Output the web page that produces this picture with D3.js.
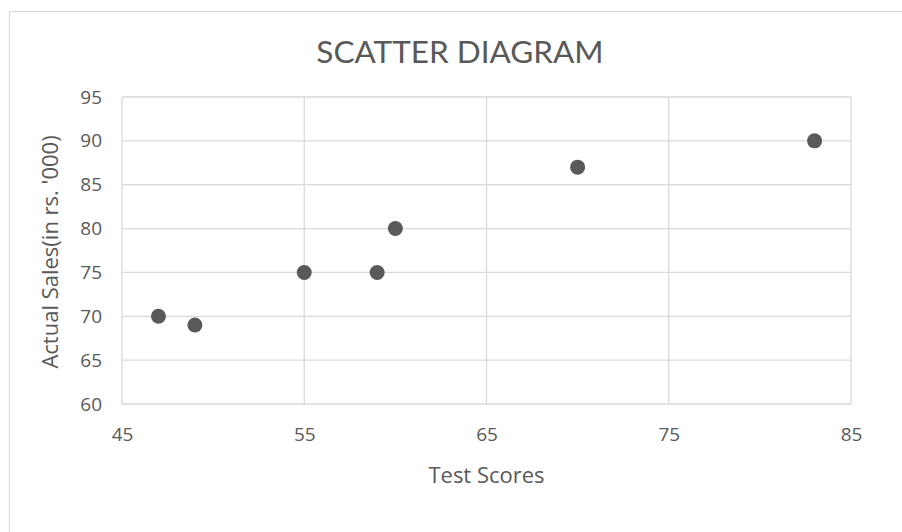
<!DOCTYPE html>
<html>
<head>
<meta charset="utf-8">
<script src="https://cdn.jsdelivr.net/npm/d3@7"></script>
<style>
  body { margin: 0; background: #fff; }
  text { font-family: "Open Sans", sans-serif; fill: #595959; }
</style>
</head>
<body>
<svg id="chart" width="902" height="532"></svg>
<script>
const testScores = [47, 49, 55, 59, 60, 70, 83];
const actualSales = [70, 69, 75, 75, 80, 87, 90];
const xTicks = [45, 55, 65, 75, 85];
const yTicks = [60, 65, 70, 75, 80, 85, 90, 95];

const svg = d3.select('#chart');
const width = +svg.attr('width');
const height = +svg.attr('height');

// chart frame
svg.append('rect')
  .attr('x', 9.5).attr('y', 11.5)
  .attr('width', width + 20).attr('height', height + 20)
  .attr('fill', '#fff')
  .attr('stroke', '#d9d9d9');

const margin = {left: 122, right: 51, top: 97, bottom: 128};
const x = d3.scaleLinear().domain([45, 85]).range([margin.left, width - margin.right]);
const y = d3.scaleLinear().domain([60, 95]).range([height - margin.bottom, margin.top]);

const g = svg.append('g');

// gridlines
g.selectAll('.hgrid').data(yTicks)
  .enter().append('line')
    .attr('x1', x(45)).attr('x2', x(85))
    .attr('y1', d => y(d)).attr('y2', d => y(d))
    .attr('stroke', '#d9d9d9').attr('stroke-width', 1.3);

g.selectAll('.vgrid').data(xTicks)
  .enter().append('line')
    .attr('x1', d => x(d)).attr('x2', d => x(d))
    .attr('y1', y(60)).attr('y2', y(95))
    .attr('stroke', '#d9d9d9').attr('stroke-width', 1.3);

// axes (labels only)
const xAxis = d3.axisBottom(x).tickValues(xTicks).tickSize(0).tickPadding(24);
const yAxis = d3.axisLeft(y).tickValues(yTicks).tickSize(0).tickPadding(20);

const gx = svg.append('g').attr('transform', `translate(0,${y(60)})`).call(xAxis);
const gy = svg.append('g').attr('transform', `translate(${x(45)},0)`).call(yAxis);
[gx, gy].forEach(a => {
  a.select('.domain').remove();
  a.selectAll('text').style('font-size', '19px').style('font-family', '"Open Sans", sans-serif').attr('fill', '#595959');
});

// points
const points = testScores.map((d, i) => ({x: d, y: actualSales[i]}));
g.selectAll('circle').data(points)
  .enter().append('circle')
    .attr('cx', d => x(d.x))
    .attr('cy', d => y(d.y))
    .attr('r', 7.5)
    .attr('fill', '#595959');

// titles
svg.append('text')
  .attr('x', 460).attr('y', 63)
  .attr('text-anchor', 'middle')
  .style('font-family', 'Lato, "Open Sans", sans-serif')
  .style('font-size', '31.5px')
  .text('SCATTER DIAGRAM');

svg.append('text')
  .attr('x', x(65)).attr('y', 483)
  .attr('text-anchor', 'middle')
  .style('font-size', '22px')
  .text('Test Scores');

svg.append('text')
  .attr('transform', `translate(58,252) rotate(-90)`)
  .attr('text-anchor', 'middle')
  .style('font-size', '22px')
  .text("Actual Sales(in rs. '000)");
</script>
</body>
</html>
